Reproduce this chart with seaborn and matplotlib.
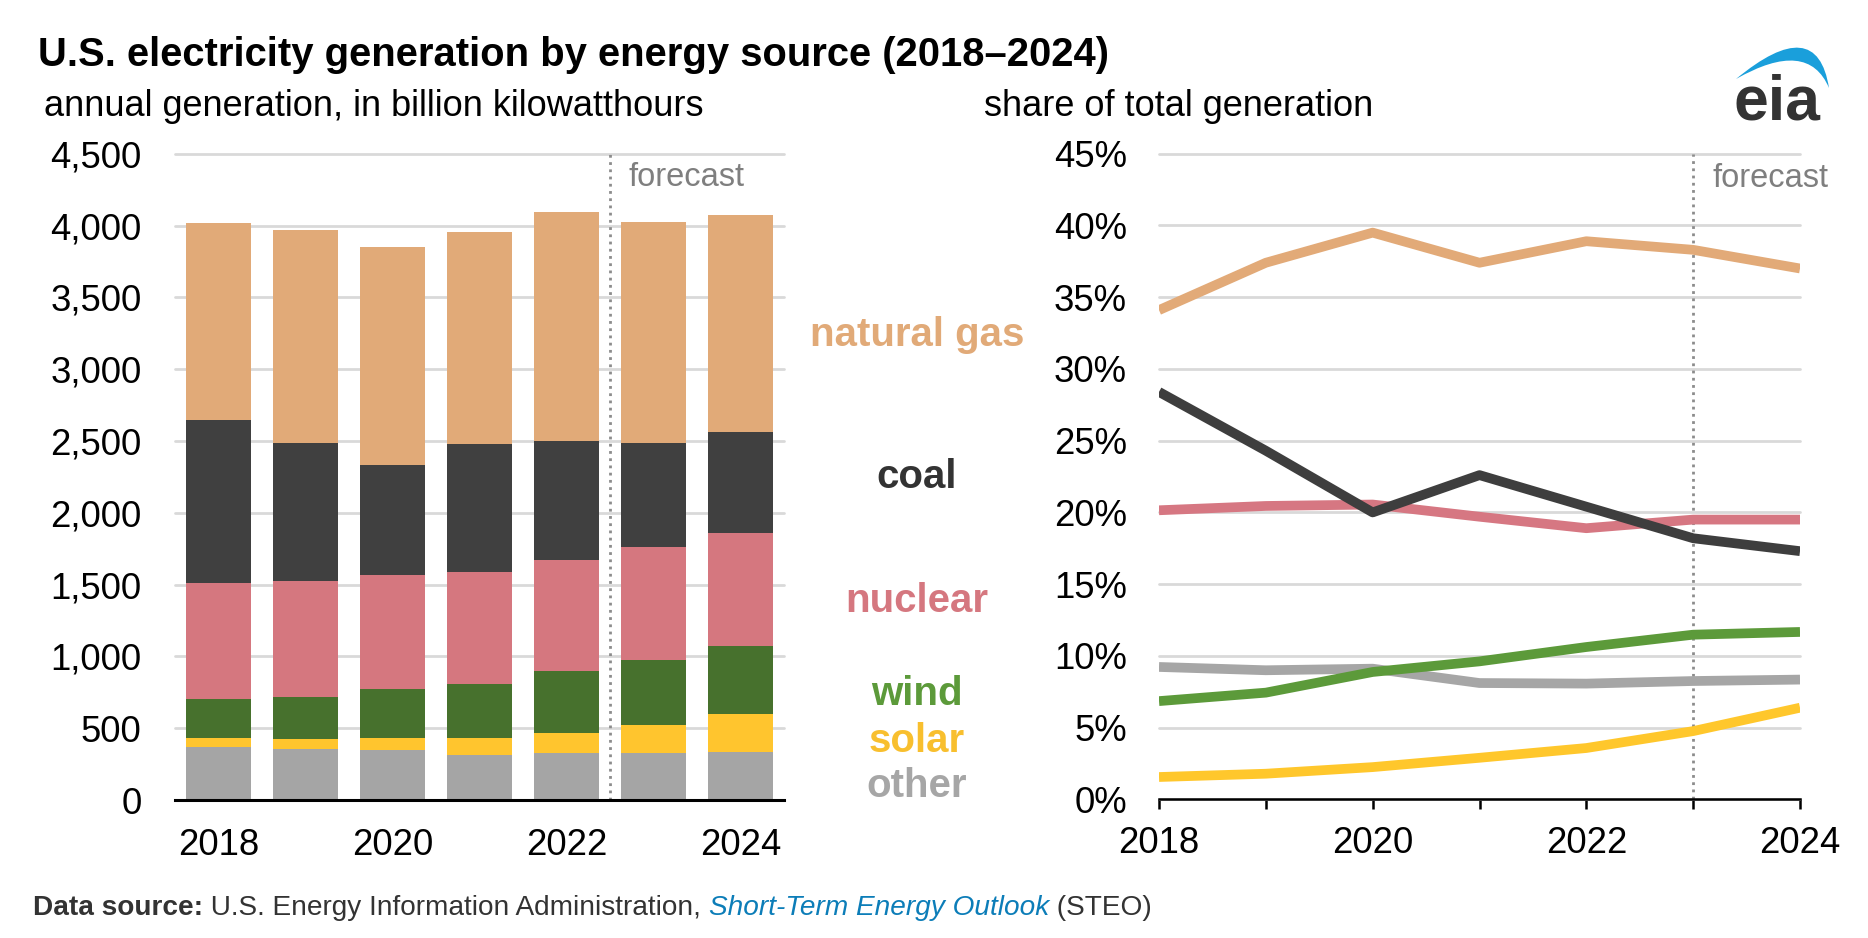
import numpy as np
import pandas as pd
import matplotlib
matplotlib.use("Agg")
import matplotlib.pyplot as plt
import seaborn as sns
from matplotlib.path import Path
from matplotlib.patches import PathPatch

# ---------------- data ----------------
years = [2018, 2019, 2020, 2021, 2022, 2023, 2024]
year_labels = ["2018", "", "2020", "", "2022", "", "2024"]
forecast_start = 2023

# annual generation, billion kWh (stack order: bottom -> top)
other_gen = [369, 355, 348, 316, 325, 330, 337]
solar_gen = [61, 68, 84, 114, 144, 190, 260]
wind_gen = [271, 296, 339, 376, 429, 455, 473]
nuclear_gen = [808, 808, 794, 782, 773, 785, 792]
coal_gen = [1139, 959, 766, 891, 831, 726, 703]
gas_gen = [1372, 1481, 1520, 1477, 1591, 1537, 1509]

# share of total generation, percent
gas_share = [34.1, 37.4, 39.5, 37.4, 38.9, 38.3, 37.0]
coal_share = [28.4, 24.3, 20.0, 22.6, 20.4, 18.2, 17.3]
nuclear_share = [20.15, 20.45, 20.55, 19.7, 18.9, 19.5, 19.5]
wind_share = [6.85, 7.44, 8.88, 9.62, 10.62, 11.48, 11.67]
other_share = [9.23, 9.0, 9.11, 8.11, 8.07, 8.25, 8.35]
solar_share = [1.56, 1.79, 2.25, 2.9, 3.58, 4.76, 6.39]

sources = ["other", "solar", "wind", "nuclear", "coal", "natural gas"]
bar_colors = ["#A5A5A5", "#FFC52E", "#47712D", "#D5777F", "#404040", "#E1AA78"]
line_colors = ["#A6A6A6", "#FFC72C", "#5C9A3A", "#D67782", "#3E3E3E", "#E2AA78"]
label_colors = ["#A6A6A6", "#F8BF2E", "#5C9A3A", "#D5777F", "#333333", "#E1AA78"]

left_yticks = [0, 500, 1000, 1500, 2000, 2500, 3000, 3500, 4000, 4500]
left_ylabels = ["0", "500", "1,000", "1,500", "2,000", "2,500", "3,000", "3,500", "4,000", "4,500"]
right_yticks = [0, 5, 10, 15, 20, 25, 30, 35, 40, 45]
right_ylabels = ["0%", "5%", "10%", "15%", "20%", "25%", "30%", "35%", "40%", "45%"]

title = "U.S. electricity generation by energy source (2018\u20132024)"
left_sub = "annual generation, in billion kilowatthours"
right_sub = "share of total generation"

# ---------------- style ----------------
sns.set_theme(style="white")
plt.rcParams["font.family"] = ["Liberation Sans", "DejaVu Sans"]

W, H = 1868, 938
fig = plt.figure(figsize=(W / 100, H / 100), dpi=100)
fig.patch.set_facecolor("white")

def fx(px):
    return px / W

def fy(py):
    return (H - py) / H

ax1 = fig.add_axes([fx(175), fy(800), (784 - 175) / W, (800 - 153.8) / H])
ax2 = fig.add_axes([fx(1159), fy(799.4), (1800 - 1159) / W, (799.4 - 153.7) / H])

grid_col = "#D9D9D9"
tick_fs = 26.3

# ---------------- left: stacked bars ----------------
gen = np.array([other_gen, solar_gen, wind_gen, nuclear_gen, coal_gen, gas_gen])
cum = np.cumsum(gen, axis=0)
year_str = [str(y) for y in years]
for i in reversed(range(len(sources))):
    sns.barplot(x=year_str, y=cum[i], color=bar_colors[i], width=0.74,
                saturation=1, errorbar=None, linewidth=0, ax=ax1, zorder=3)

ax1.set_xlim(-0.5, len(years) - 0.5)
ax1.set_ylim(0, 4500)
ax1.set_yticks(left_yticks)
ax1.set_yticklabels(left_ylabels)
ax1.set_xticks(range(len(years)))
ax1.set_xticklabels(year_labels)
ax1.yaxis.grid(True, color=grid_col, linewidth=2)
ax1.xaxis.grid(False)
ax1.set_axisbelow(True)
for gl in ax1.get_ygridlines():
    gl.set_clip_on(False)
for s in ["left", "right", "top"]:
    ax1.spines[s].set_visible(False)
ax1.spines["bottom"].set_color("black")
ax1.spines["bottom"].set_linewidth(2.2)
ax1.spines["bottom"].set_zorder(5)
ax1.tick_params(axis="y", length=0, pad=24, labelsize=tick_fs, labelcolor="black")
ax1.tick_params(axis="x", length=0, pad=20.5, labelsize=tick_fs, labelcolor="black")
ax1.set_xlabel("")
ax1.set_ylabel("")
fx_left = years.index(forecast_start) - 0.5
ax1.axvline(fx_left, ymin=0, ymax=1, color="#8C8C8C", linestyle=(0, (1, 1.6)),
            linewidth=2, zorder=4, clip_on=False)
ax1.text(fx_left + 0.21, 4332, "forecast", color="#7F7F7F", fontsize=23.5,
         ha="left", va="center")

# ---------------- right: shares ----------------
shares = [other_share, solar_share, wind_share, nuclear_share, coal_share, gas_share]
for vals, col in zip(shares, line_colors):
    sns.lineplot(x=years, y=vals, color=col, linewidth=7, ax=ax2,
                 solid_capstyle="butt", zorder=3)
ax2.set_xlim(years[0], years[-1])
ax2.set_ylim(0, 45)
ax2.set_yticks(right_yticks)
ax2.set_yticklabels(right_ylabels)
ax2.set_xticks(years)
ax2.set_xticklabels(year_labels)
ax2.yaxis.grid(True, color=grid_col, linewidth=2)
ax2.xaxis.grid(False)
ax2.set_axisbelow(True)
for gl in ax2.get_ygridlines():
    gl.set_clip_on(False)
for s in ["left", "right", "top"]:
    ax2.spines[s].set_visible(False)
ax2.spines["bottom"].set_color("black")
ax2.spines["bottom"].set_linewidth(1.8)
ax2.tick_params(axis="y", length=0, pad=23, labelsize=tick_fs, labelcolor="black")
ax2.tick_params(axis="x", direction="out", length=7, width=1.8, color="black",
                pad=12.5, labelsize=tick_fs, labelcolor="black", bottom=True)
ax2.set_xlabel("")
ax2.set_ylabel("")
ax2.axvline(forecast_start, color="#8C8C8C", linestyle=(0, (1, 1.6)),
            linewidth=2, zorder=2)
ax2.text(forecast_start + 0.18, 43.26, "forecast", color="#7F7F7F", fontsize=23.5,
         ha="left", va="center")

# ---------------- center labels ----------------
label_baselines = {"natural gas": 345.7, "coal": 488.3, "nuclear": 612,
                   "wind": 705, "solar": 751.7, "other": 796.7}
for name, col in zip(sources, label_colors):
    fig.text(fx(917), fy(label_baselines[name]), name, ha="center", va="baseline",
             fontsize=29, fontweight="bold", color=col)

# ---------------- titles ----------------
fig.text(fx(38), fy(65.5), title, fontsize=28.8, fontweight="bold",
         va="baseline", ha="left", color="black")
fig.text(fx(44), fy(115.6), left_sub, fontsize=26, va="baseline", ha="left", color="black")
fig.text(fx(984), fy(115.6), right_sub, fontsize=26, va="baseline", ha="left", color="black")

# ---------------- source ----------------
src_fs = 20.15
t1 = fig.text(fx(33), fy(915), "Data source:", fontsize=src_fs, fontweight="bold",
              va="baseline", ha="left", color="#333333")
t2 = fig.text(0, 0, " U.S. Energy Information Administration, ", fontsize=src_fs,
              color="#333333")
t3 = fig.text(0, 0, "Short-Term Energy Outlook", fontsize=src_fs, style="italic",
              color="#0C7DB8")
t4 = fig.text(0, 0, " (STEO)", fontsize=src_fs, color="#333333")
fig.canvas.draw()
r = fig.canvas.get_renderer()
prev = t1
for t in (t2, t3, t4):
    bb = prev.get_window_extent(r)
    t.set_position((bb.x1 / W, fy(915)))
    t.set_va("baseline")
    t.set_ha("left")
    prev = t
    fig.canvas.draw()

# ---------------- logo ----------------
verts = [(1736, 79), (1817, 12), (1829, 88), (1808, 38), (1736, 79)]
verts_fig = [(fx(x), fy(y)) for x, y in verts]
codes = [Path.MOVETO, Path.CURVE3, Path.CURVE3, Path.CURVE3, Path.CURVE3]
fig.patches.append(PathPatch(Path(verts_fig, codes), transform=fig.transFigure,
                             facecolor="#1A9FDB", edgecolor="none"))
fig.text(fx(1777), fy(120), "eia", fontsize=45, fontweight="bold", color="#333333",
         ha="center", va="baseline")

fig.savefig("out.png", dpi=100, facecolor="white")
